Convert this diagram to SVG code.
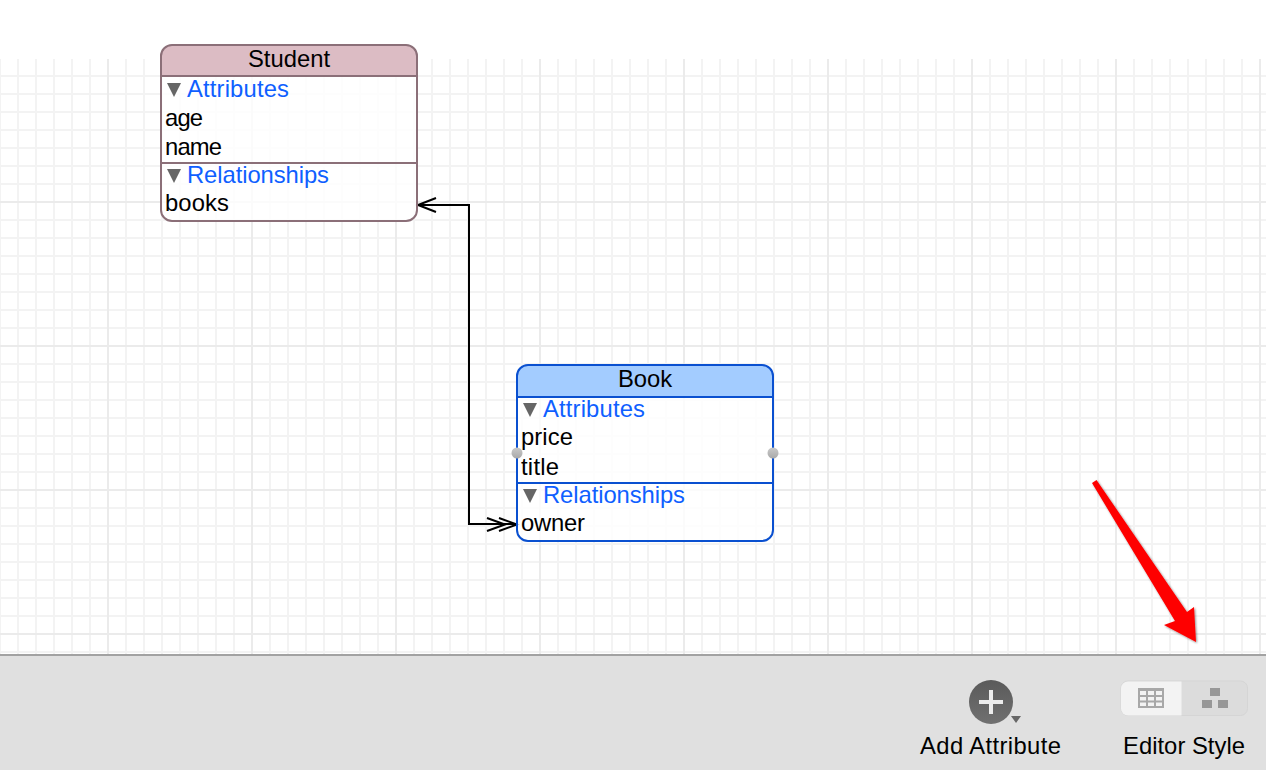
<svg xmlns="http://www.w3.org/2000/svg" width="1266" height="770" viewBox="0 0 1266 770">
<style>
text{font-family:"Liberation Sans",Arial,sans-serif;font-size:23.8px;fill:#000}
.sec{fill:#0f5fff}
.tri{fill:#666}
.body{fill:#fff;fill-opacity:.8}
.s{stroke:#8b6f78}
.b{stroke:#0a50d0}
.ln{fill:none;stroke-width:2}
.conn{fill:none;stroke:#000;stroke-width:2}
.icon{fill:#979797}
</style>
<defs>
<pattern id="minor" patternUnits="userSpaceOnUse" x="-1" y="57" width="18" height="18">
<rect x="0" y="0" width="18" height="2" fill="#f3f3f3"/>
<rect x="0" y="0" width="2" height="18" fill="#f3f3f3"/>
</pattern>
<pattern id="major" patternUnits="userSpaceOnUse" x="-37" y="57" width="144" height="144">
<rect x="0" y="0" width="144" height="2" fill="#ebebeb"/>
<rect x="0" y="0" width="2" height="144" fill="#ebebeb"/>
</pattern>
<linearGradient id="handle" x1="0" y1="0" x2="0" y2="1">
<stop offset="0" stop-color="#c9c9c9"/>
<stop offset="1" stop-color="#a9a9a9"/>
</linearGradient>
<linearGradient id="btn" x1="0" y1="0" x2="0" y2="1">
<stop offset="0" stop-color="#5a5a5a"/>
<stop offset="1" stop-color="#707070"/>
</linearGradient>
<filter id="shadow" x="-10%" y="-10%" width="120%" height="120%">
<feDropShadow dx="1" dy="1" stdDeviation="0.8" flood-color="#000" flood-opacity=".45"/>
</filter>
</defs>
<rect width="1266" height="770" fill="#fff"/>
<g id="grid">
<rect x="0" y="59" width="1266" height="596" fill="url(#minor)"/>
<rect x="0" y="59" width="1266" height="596" fill="url(#major)"/>
</g>
<g id="connectors">
<path class="conn" d="M418 205H469V524H517"/>
<path class="conn" d="M436 198L418 205L436 212"/>
<path class="conn" d="M487 518L505 524.500L487 531"/>
<path class="conn" d="M499 518L517 524.500L499 531"/>
</g>
<g id="student">
<rect class="body" x="161" y="45" width="256" height="176" rx="11"/>
<path d="M161 76V56a11 11 0 0 1 11-11H406a11 11 0 0 1 11 11V76Z" fill="#dcbcc4"/>
<rect class="ln s" x="161" y="45" width="256" height="176" rx="11"/>
<path class="ln s" d="M161 76H417M161 163H417"/>
<text x="289" y="67" text-anchor="middle">Student</text>
<path class="tri" d="M167 83H181L174 97Z"/>
<text class="sec" x="187" y="97" textLength="102">Attributes</text>
<text x="165" y="126" textLength="38">age</text>
<text x="165" y="155" textLength="57">name</text>
<path class="tri" d="M167 169H181L174 183Z"/>
<text class="sec" x="187" y="183" textLength="142">Relationships</text>
<text x="165" y="211" textLength="64">books</text>
</g>
<g id="book">
<rect class="body" x="517" y="365" width="256" height="176" rx="11"/>
<path d="M517 396V376a11 11 0 0 1 11-11H762a11 11 0 0 1 11 11V396Z" fill="#a3ccff"/>
<rect class="ln b" x="517" y="365" width="256" height="176" rx="11"/>
<path class="ln b" d="M517 397H773M517 483H773"/>
<text x="645" y="387" text-anchor="middle">Book</text>
<path class="tri" d="M523 403H537L530 417Z"/>
<text class="sec" x="543" y="417" textLength="102">Attributes</text>
<text x="521" y="445" textLength="52">price</text>
<text x="521" y="475" textLength="38">title</text>
<path class="tri" d="M523 489H537L530 503Z"/>
<text class="sec" x="543" y="503" textLength="142">Relationships</text>
<text x="521" y="531" textLength="64">owner</text>
<circle cx="517" cy="453" r="5.500" fill="url(#handle)"/>
<circle cx="773" cy="453" r="5.500" fill="url(#handle)"/>
</g>
<g id="red-arrow">
<path d="M1092 483L1096.500 480L1187 612L1194 607L1196 642L1164 625L1175 621Z" fill="#fe0000" filter="url(#shadow)"/>
</g>
<g id="toolbar">
<rect x="0" y="655" width="1266" height="115" fill="#e0e0e0"/>
<rect x="0" y="654" width="1266" height="2" fill="#a2a2a2"/>
</g>
<g id="add-attribute">
<circle cx="991" cy="702" r="22" fill="url(#btn)"/>
<path d="M989 690h4v10h10v4h-10v10h-4v-10h-10v-4h10z" fill="#ececec"/>
<path d="M1011 716H1021L1016 723Z" fill="#666"/>
<text x="920" y="754" textLength="141">Add Attribute</text>
</g>
<g id="editor-style">
<rect x="1121" y="681" width="126.500" height="34.500" rx="7" fill="#dcdcdc" stroke="#d5d5d5"/>
<path d="M1181.500 681.500H1128a7 7 0 0 0-7 7V708.500a7 7 0 0 0 7 7H1181.500Z" fill="#f3f3f3"/>
<path d="M1138 688h26v20h-26zM1140 691v4h6v-4zM1148 691v4h6v-4zM1156 691v4h6v-4zM1140 697v3.500h6v-3.500zM1148 697v3.500h6v-3.500zM1156 697v3.500h6v-3.500zM1140 702.500v3.500h6v-3.500zM1148 702.500v3.500h6v-3.500zM1156 702.500v3.500h6v-3.500z" fill="#a8a8a8" fill-rule="evenodd"/>
<rect class="icon" x="1210" y="688" width="10" height="8"/>
<rect class="icon" x="1202" y="700" width="10" height="8"/>
<rect class="icon" x="1218" y="700" width="10" height="8"/>
<text x="1123" y="754" textLength="122">Editor Style</text>
</g>
</svg>
